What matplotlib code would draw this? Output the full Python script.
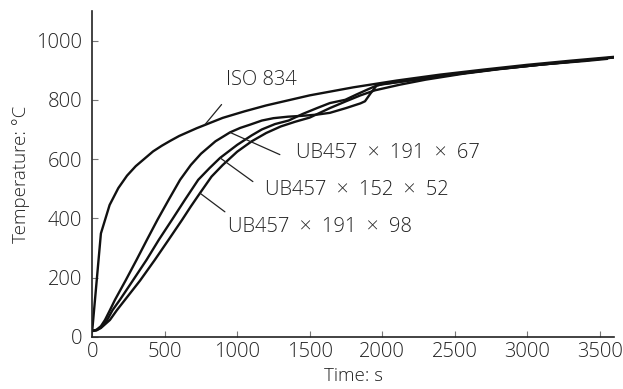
import matplotlib
matplotlib.use("Agg")
import matplotlib.pyplot as plt

plt.rcParams['font.family'] = ['Open Sans', 'DejaVu Sans']

# ISO 834 standard fire curve
iso_t = [0, 60, 120, 180, 240, 300, 420, 480, 540, 600, 720, 900, 1050, 1200, 1500,
         1800, 2100, 2400, 2700, 3000, 3300, 3600]
iso_T = [20, 349, 445, 502, 544, 576, 626, 645, 662, 678, 704, 739, 761, 781, 815,
         842, 865, 885, 902, 918, 932, 945]

# UB457 x 191 x 67
a_t = [0, 30, 60, 88, 120, 157, 230, 306, 380, 450, 530, 606, 680, 750, 850, 950,
       1020, 1088, 1170, 1250, 1350, 1450, 1550, 1639, 1750, 1850, 1881, 1920, 1961,
       2000, 2200, 2500, 2800, 3100, 3400, 3600]
a_T = [20, 24, 36, 57, 88, 125, 190, 260, 330, 395, 465, 530, 580, 618, 660, 690,
       705, 716, 730, 738, 743, 746, 750, 756, 772, 788, 795, 822, 848,
       853, 866, 886, 904, 919, 933, 943]

# UB457 x 152 x 52
b_t = [0, 30, 60, 103, 140, 191, 280, 375, 460, 550, 640, 731, 810, 882, 1000, 1100,
       1170, 1260, 1354, 1450, 1550, 1639, 1745, 1823, 1900, 1961, 2000, 2200, 2500,
       2800, 3100, 3400, 3600]
b_T = [20, 23, 32, 57, 90, 125, 190, 260, 328, 395, 463, 530, 570, 604, 648, 680,
       700, 718, 730, 752, 772, 789, 800, 818, 835, 848, 852, 866, 886,
       904, 919, 933, 943]

# UB457 x 191 x 98
c_t = [0, 30, 60, 122, 170, 226, 330, 432, 530, 620, 680, 743, 823, 900, 1000, 1100,
       1200, 1300, 1400, 1500, 1639, 1750, 1850, 1950, 2122, 2300, 2559, 2800, 3100,
       3400, 3548]
c_T = [20, 22, 30, 57, 90, 125, 190, 260, 330, 395, 440, 485, 541, 580, 625, 660,
       688, 710, 726, 740, 772, 795, 815, 832, 851, 868, 888, 903, 919,
       931, 938]

x_ticks = [0, 500, 1000, 1500, 2000, 2500, 3000, 3500]
y_ticks = [0, 200, 400, 600, 800, 1000]

fig = plt.figure(figsize=(6.23, 3.89), dpi=100)
ax = fig.add_axes([0.148, 0.134, 0.838, 0.838])

lw = 1.7
for t, T in [(iso_t, iso_T), (a_t, a_T), (b_t, b_T), (c_t, c_T)]:
    ax.plot(t, T, color='#111111', lw=lw, solid_joinstyle='round')

ax.set_xlim(0, 3600)
ax.set_ylim(0, 1100)
ax.set_xticks(x_ticks)
ax.set_yticks(y_ticks)

tc = '#222222'
fw = 'light'
for s in ['top', 'right']:
    ax.spines[s].set_visible(False)
for s in ['left', 'bottom']:
    ax.spines[s].set_linewidth(1.2)
    ax.spines[s].set_color('#222222')
ax.tick_params(axis='both', direction='in', length=4, width=0.8, color='#777777',
               labelsize=14.5, labelcolor=tc)
ax.tick_params(axis='x', pad=4)
ax.tick_params(axis='y', pad=7)
for lab in ax.get_xticklabels() + ax.get_yticklabels():
    lab.set_fontweight(fw)

ax.set_xlabel('Time: s', fontsize=13.5, color=tc, labelpad=3, fontweight=fw)
ax.set_ylabel('Temperature: °C', fontsize=13.5, color=tc, labelpad=5, fontweight=fw)

fs = 14.5
lp = dict(arrowstyle='-', color='#222222', lw=0.9, shrinkA=0, shrinkB=0)
ax.annotate('', xy=(777, 716), xytext=(892, 784), arrowprops=lp)
ax.text(925, 868, 'ISO 834', fontsize=fs, color=tc, va='center', ha='left', fontweight=fw)

ax.annotate('', xy=(950, 690), xytext=(1294, 615), arrowprops=lp)
ax.text(1405, 622, 'UB457  ×  191  ×  67', fontsize=fs, color=tc, va='center', ha='left', fontweight=fw)

ax.annotate('', xy=(882, 604), xytext=(1108, 524), arrowprops=lp)
ax.text(1191, 497, 'UB457  ×  152  ×  52', fontsize=fs, color=tc, va='center', ha='left', fontweight=fw)

ax.annotate('', xy=(743, 485), xytext=(915, 422), arrowprops=lp)
ax.text(936, 372, 'UB457  ×  191  ×  98', fontsize=fs, color=tc, va='center', ha='left', fontweight=fw)

fig.savefig('out.png', dpi=100)
